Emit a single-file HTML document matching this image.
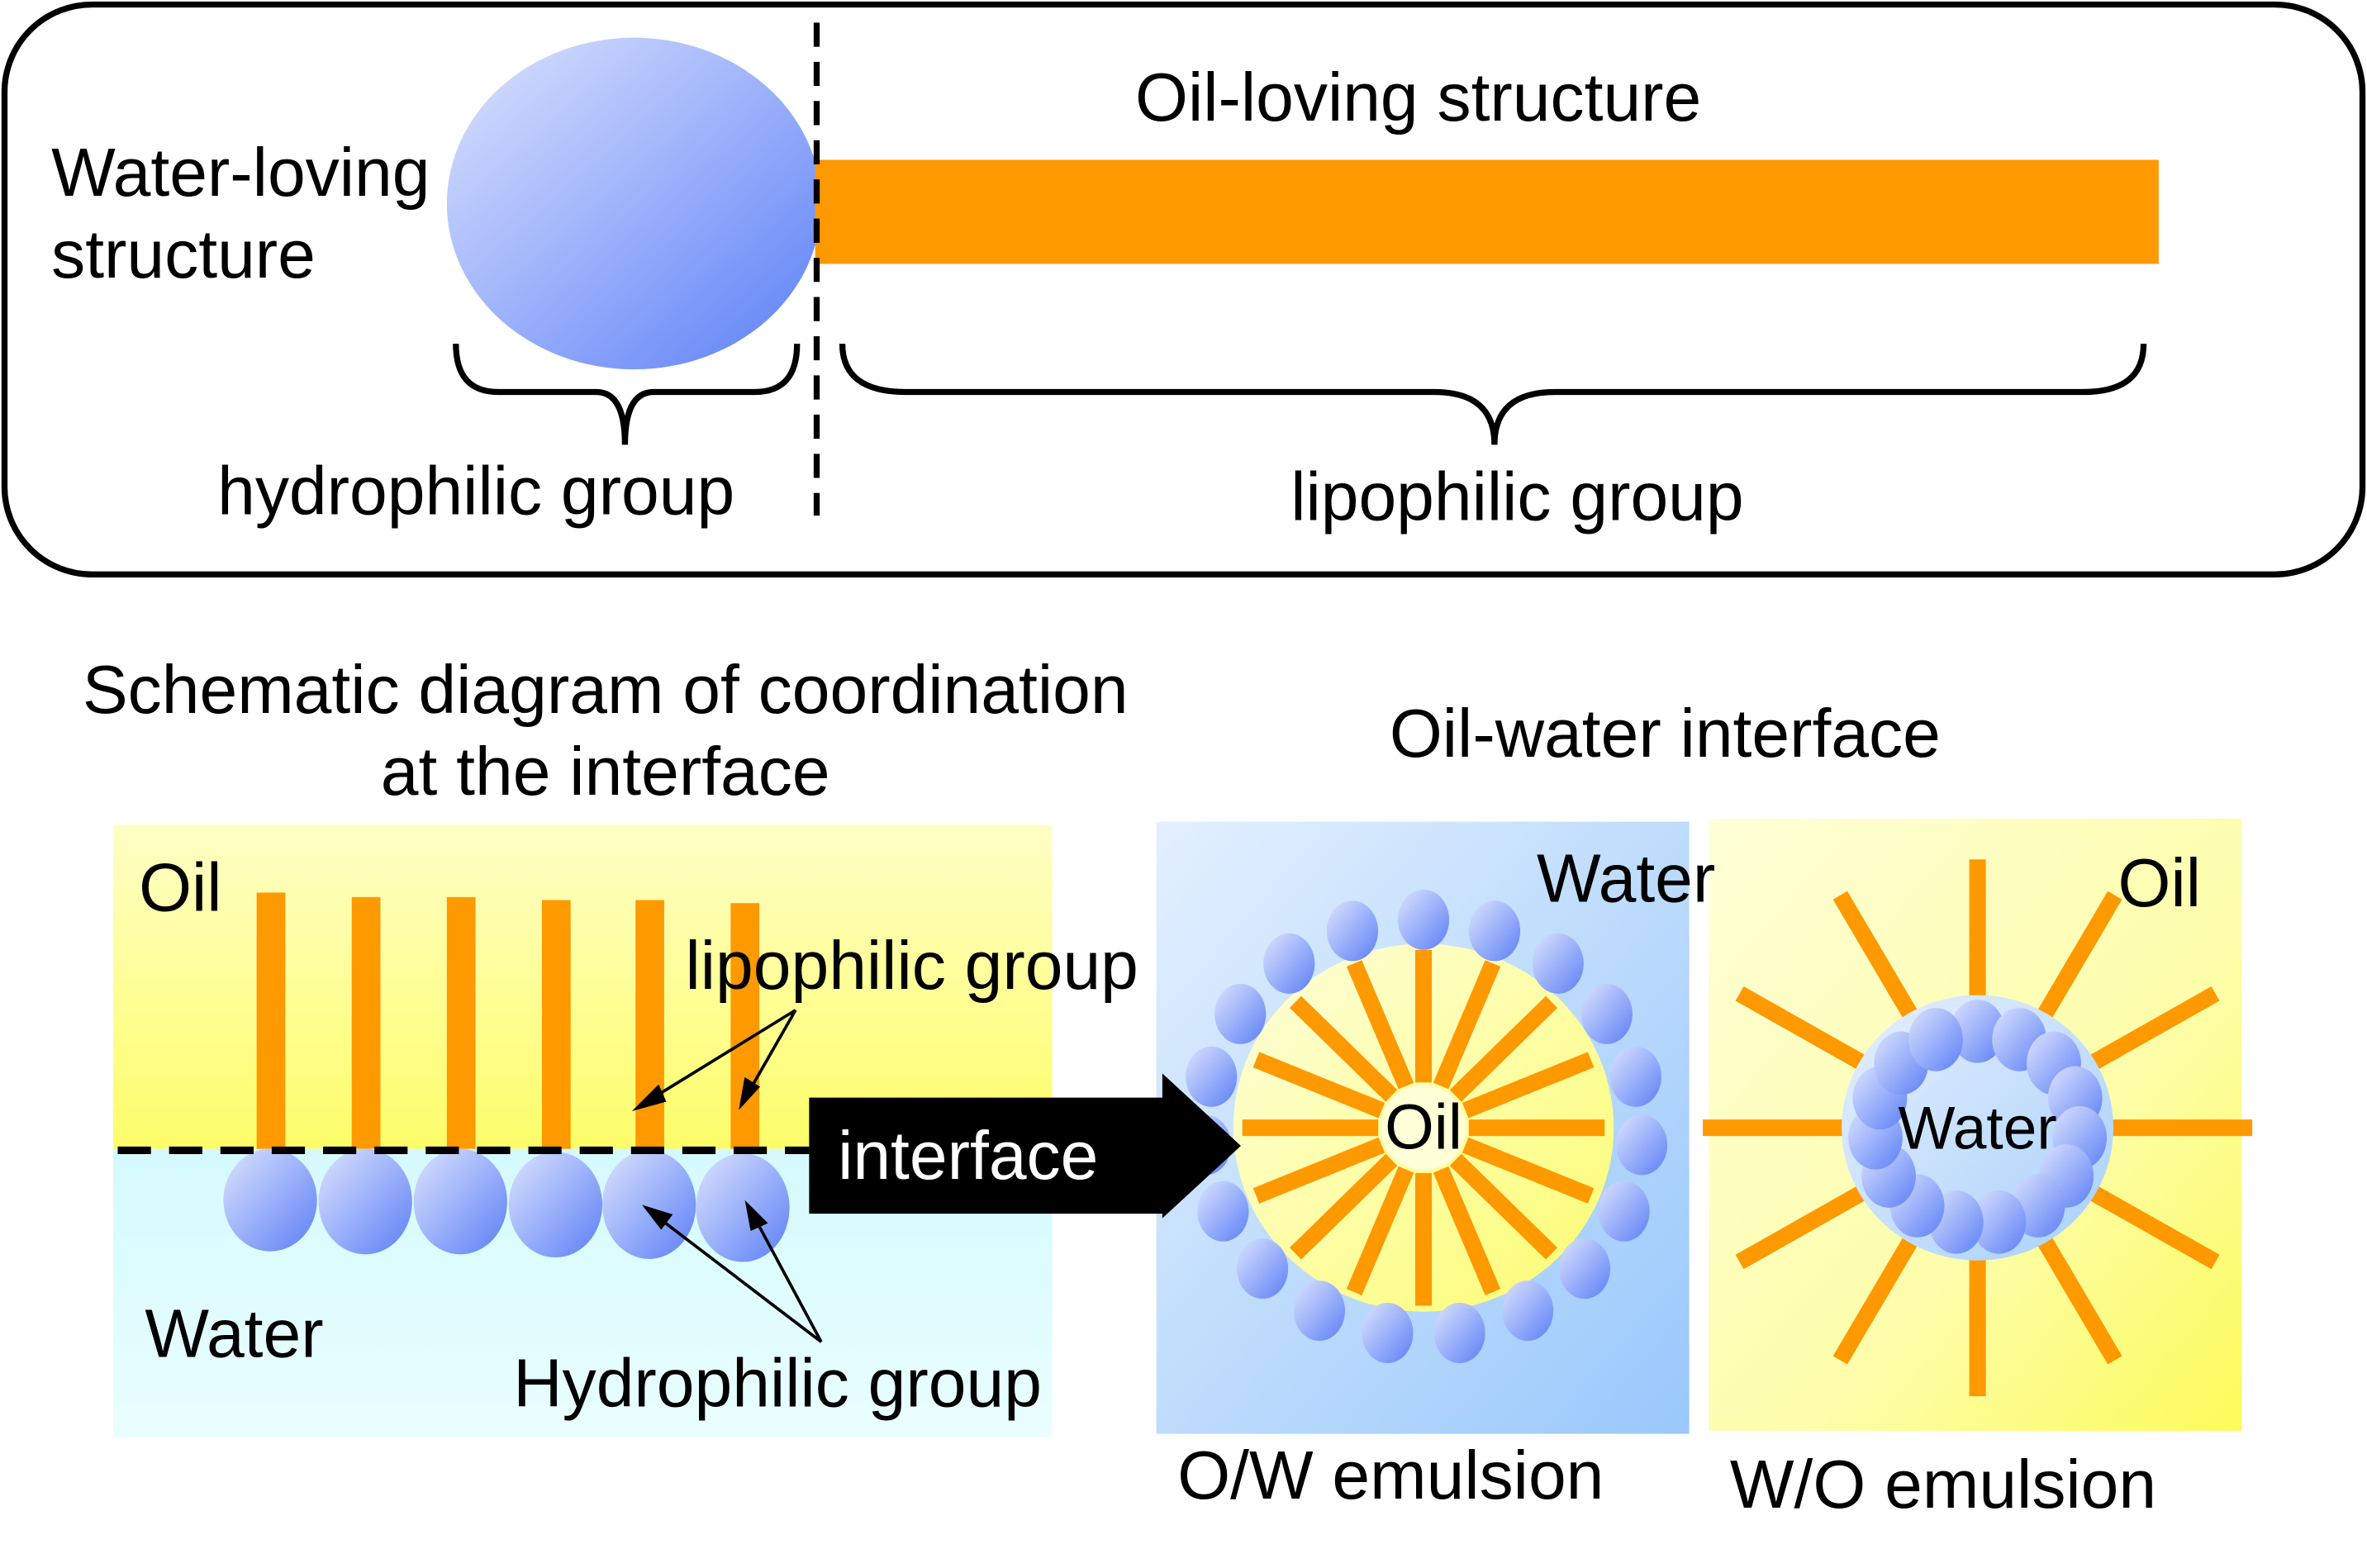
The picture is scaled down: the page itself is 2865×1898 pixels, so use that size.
<!DOCTYPE html>
<html><head><style>html,body{margin:0;padding:0;background:#fff}svg{display:block}</style></head>
<body>
<svg id="s" width="2865" height="1898" viewBox="0 0 1568 1040" preserveAspectRatio="none" xmlns="http://www.w3.org/2000/svg" font-family="'Liberation Sans', Arial, sans-serif">
<defs>
<linearGradient id="ball" x1="0" y1="0" x2="1" y2="1"><stop offset="0" stop-color="#dde4fd"/><stop offset="1" stop-color="#5b7ff7"/></linearGradient>
<linearGradient id="ylw" x1="0" y1="0" x2="0" y2="1"><stop offset="0" stop-color="#ffffc6"/><stop offset="1" stop-color="#fdfd6a"/></linearGradient>
<linearGradient id="cyn" x1="0" y1="0" x2="0" y2="1"><stop offset="0" stop-color="#d4fafd"/><stop offset="1" stop-color="#eafeff"/></linearGradient>
<linearGradient id="bluebg" x1="0" y1="0" x2="1" y2="1"><stop offset="0" stop-color="#e3f0fe"/><stop offset="1" stop-color="#99c8fb"/></linearGradient>
<linearGradient id="ylwbg" x1="0" y1="0" x2="1" y2="1"><stop offset="0" stop-color="#ffffd8"/><stop offset="0.6" stop-color="#fdfdaa"/><stop offset="1" stop-color="#fcfc5a"/></linearGradient>
<linearGradient id="ylwc" x1="0" y1="0" x2="1" y2="1"><stop offset="0" stop-color="#ffffdd"/><stop offset="1" stop-color="#fcfc70"/></linearGradient>
<linearGradient id="bluec" x1="0" y1="0" x2="1" y2="1"><stop offset="0" stop-color="#e6f0fe"/><stop offset="1" stop-color="#a8d0fb"/></linearGradient>
</defs>
<rect x="3" y="3" width="1562" height="378" rx="58" fill="none" stroke="#000" stroke-width="4"/>
<ellipse cx="420" cy="135" rx="124" ry="110" fill="url(#ball)"/>
<rect x="540" y="106" width="890" height="69" fill="#ff9900"/>
<line x1="541" y1="15" x2="541" y2="342" stroke="#000" stroke-width="4" stroke-dasharray="16,10"/>
<path d="M302 228 Q302 260 330 260 L395 260 Q414 260 414 295 Q414 260 433 260 L500 260 Q528 260 528 228" fill="none" stroke="#000" stroke-width="4"/>
<path d="M558 228 Q558 260 600 260 L950 260 Q990 260 990 295 Q990 260 1030 260 L1380 260 Q1420 260 1420 228" fill="none" stroke="#000" stroke-width="4"/>
<g font-size="45" fill="#000">
<text x="34" y="130">Water-loving</text>
<text x="34" y="184">structure</text>
<text x="752" y="80">Oil-loving structure</text>
<text x="144" y="341">hydrophilic group</text>
<text x="855" y="345">lipophilic group</text>
<text x="401" y="473" text-anchor="middle">Schematic diagram of coordination</text>
<text x="401" y="527" text-anchor="middle">at the interface</text>
<text x="1103" y="502" text-anchor="middle">Oil-water interface</text>
</g>
<rect x="75" y="547" width="622" height="215" fill="url(#ylw)"/>
<rect x="75" y="762" width="622" height="191" fill="url(#cyn)"/>
<g fill="#ff9900">
<rect x="170" y="592" width="19" height="170"/><rect x="233" y="595" width="19" height="167"/><rect x="296" y="595" width="19" height="167"/><rect x="359" y="597" width="19" height="165"/><rect x="421" y="597" width="19" height="165"/><rect x="484" y="599" width="19" height="163"/>
</g>
<g fill="url(#ball)">
<ellipse cx="179" cy="796" rx="31" ry="34"/><ellipse cx="242" cy="797" rx="31" ry="35"/><ellipse cx="305" cy="797" rx="31" ry="35"/><ellipse cx="368" cy="799" rx="31" ry="35"/><ellipse cx="430" cy="799" rx="31" ry="36"/><ellipse cx="492" cy="801" rx="31" ry="36"/>
</g>
<line x1="78" y1="763" x2="536" y2="763" stroke="#000" stroke-width="5" stroke-dasharray="22,12"/>
<g stroke="#000" stroke-width="2" fill="#000">
<line x1="527" y1="670" x2="428" y2="731"/><polygon points="422,735 436,721 440,730"/>
<line x1="527" y1="670" x2="495" y2="726"/><polygon points="491,733 494,716 502,721"/>
<line x1="544" y1="890" x2="434" y2="806"/><polygon points="428,801 444,806 438,814"/>
<line x1="544" y1="890" x2="499" y2="806"/><polygon points="495,799 507,811 498,815"/>
</g>
<g font-size="45" fill="#000">
<text x="92" y="604">Oil</text>
<text x="454" y="656">lipophilic group</text>
<text x="96" y="900">Water</text>
<text x="340" y="933">Hydrophilic group</text>
</g>
<rect x="766" y="545" width="353" height="406" fill="url(#bluebg)"/>
<ellipse cx="943" cy="748" rx="126" ry="122" fill="url(#ylwc)"/>
<g id="ow"></g>
<ellipse cx="943" cy="748" rx="28" ry="28" fill="#ffffd8"/>
<text x="943" y="762" font-size="42" text-anchor="middle">Oil</text>
<polygon points="536,728 770,728 770,712 822,760 770,808 770,805 536,805" fill="#000"/>
<text x="555" y="782" font-size="45" fill="#fff">interface</text>
<rect x="1132" y="543" width="353" height="406" fill="url(#ylwbg)"/>
<g id="wos"></g>
<ellipse cx="1310" cy="748" rx="90" ry="88" fill="url(#bluec)"/>
<g id="wob"></g>
<text x="1310" y="762" font-size="40" text-anchor="middle">Water</text>
<text x="1403" y="601" font-size="45">Oil</text>
<text x="1018" y="598" font-size="45">Water</text>
<g font-size="45" fill="#000">
<text x="780" y="994">O/W emulsion</text>
<text x="1146" y="1000">W/O emulsion</text>
</g>
<script>
var NS="http://www.w3.org/2000/svg";
function el(p,t,a){var e=document.createElementNS(NS,t);for(var k in a)e.setAttribute(k,a[k]);p.appendChild(e);}
var ow=document.getElementById("ow");
for(var i=0;i<16;i++){var a=i*Math.PI/8;var c=Math.cos(a),s=Math.sin(a);
el(ow,"line",{x1:943+30*c,y1:748+30*s,x2:943+120*c,y2:748+118*s,stroke:"#ff9900","stroke-width":11});}
for(var i=0;i<19;i++){var a=-Math.PI/2+i*2*Math.PI/19;var c=Math.cos(a),s=Math.sin(a);
el(ow,"ellipse",{cx:943+145*c,cy:748+138*s,rx:17,ry:20,fill:"url(#ball)"});}
var wos=document.getElementById("wos");
for(var i=0;i<12;i++){var a=i*Math.PI/6;var c=Math.cos(a),s=Math.sin(a);
el(wos,"line",{x1:1310+80*c,y1:748+78*s,x2:1310+182*c,y2:748+178*s,stroke:"#ff9900","stroke-width":11});}
var wob=document.getElementById("wob");
for(var i=0;i<15;i++){var a=-Math.PI/2+i*2*Math.PI/15;var c=Math.cos(a),s=Math.sin(a);
el(wob,"ellipse",{cx:1310+68*c,cy:748+64*s,rx:18,ry:21,fill:"url(#ball)"});}
</script>
</svg>
</body></html>
